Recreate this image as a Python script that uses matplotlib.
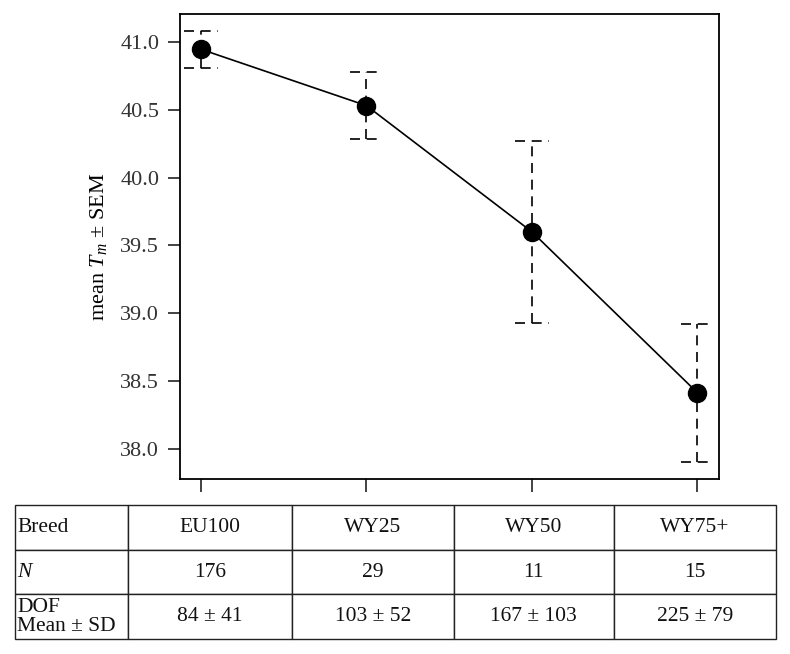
import matplotlib.pyplot as plt
import numpy as np

plt.rcParams['font.family'] = ['Liberation Serif', 'DejaVu Serif']
plt.rcParams['mathtext.fontset'] = 'custom'
plt.rcParams['mathtext.rm'] = 'Liberation Serif'
plt.rcParams['mathtext.it'] = 'Liberation Serif:italic'

# donnees
breeds = ['EU100', 'WY25', 'WY50', 'WY75+']
mean_tm = [40.945, 40.53, 39.60, 38.415]
sem_up = [0.135, 0.245, 0.67, 0.51]
sem_down = [0.135, 0.245, 0.67, 0.51]
n_obs = ['176', '29', '11', '15']
dof = ['84 ± 41', '103 ± 52', '167 ± 103', '225 ± 79']
row_labels = ['Breed', '$N$', 'DOF\nMean ± SD']
yticks = [38.0, 38.5, 39.0, 39.5, 40.0, 40.5, 41.0]

x = np.arange(1, len(breeds) + 1)
y = np.array(mean_tm)
lo = y - np.array(sem_down)
hi = y + np.array(sem_up)

fig = plt.figure(figsize=(7.9, 6.54), dpi=100)
ax = fig.add_axes([0.2278, 0.2676, 0.6823, 0.711])

ax.plot(x, y, color='k', lw=1.2, zorder=2)
# barres d'erreur en pointilles
ax.vlines(x, lo, hi, colors='k', linestyles=(0, (6, 4)), lw=1.2, zorder=1)
ax.hlines(hi, x - 0.1, x + 0.1, colors='k', linestyles=(0, (6, 4)), lw=1.2, zorder=1)
ax.hlines(lo, x - 0.1, x + 0.1, colors='k', linestyles=(0, (6, 4)), lw=1.2, zorder=1)
ax.plot(x, y, 'o', color='k', ms=13, zorder=3)

ax.set_xlim(0.873, 4.13)
ax.set_ylim(37.78, 41.205)
ax.set_xticks(x)
ax.set_xticklabels([])
ax.set_yticks(yticks)
ax.set_yticklabels(['%.1f' % v for v in yticks])
ax.tick_params(direction='out', length=9, width=1.2, pad=6, labelsize=16, colors='#222222', labelcolor='#333333')
for s in ax.spines.values():
    s.set_linewidth(1.3)
ax.set_ylabel('mean $T_m$ ± SEM', fontsize=16, labelpad=8)

# tableau
tab_ax = fig.add_axes([0.019, 0.0229, 0.963, 0.2049])
tab_ax.axis('off')
cells = [row_labels[:1] + breeds, row_labels[1:2] + n_obs, row_labels[2:] + dof]
widths = np.array([113, 164, 162, 160, 162]) / 761
tbl = tab_ax.table(cellText=cells, colWidths=list(widths), bbox=[0, 0, 1, 1], cellLoc='center')
tbl.auto_set_font_size(False)
tbl.set_fontsize(15.5)
for (r, c), cell in tbl.get_celld().items():
    cell.set_linewidth(1.0)
    cell.set_edgecolor('#222222')
    cell.get_text().set_color('#111111')
    if c == 0:
        cell.get_text().set_ha('left')
        cell.get_text().set_linespacing(1.0)
        cell.PAD = 0.02

fig.savefig('out.png', dpi=100)
